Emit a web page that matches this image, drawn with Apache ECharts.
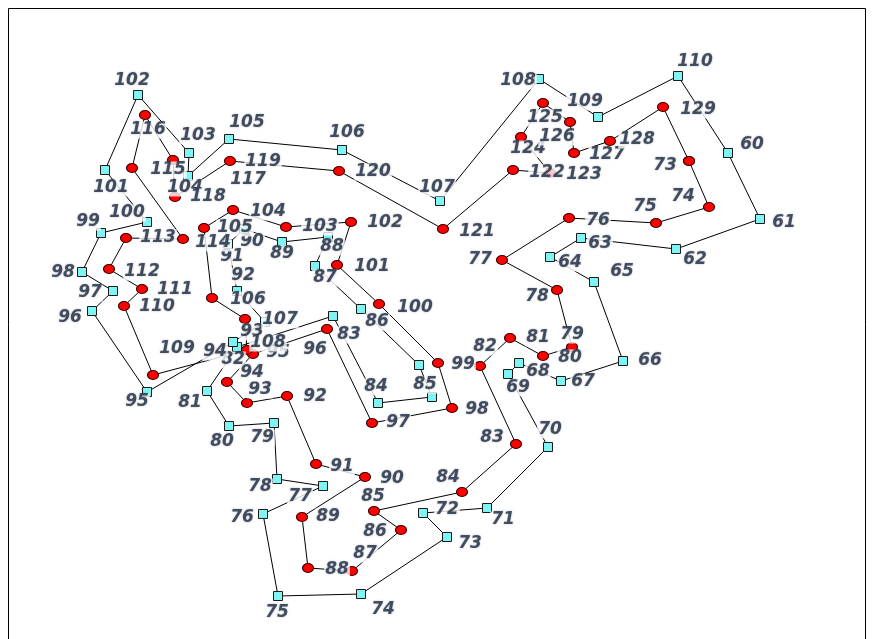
<!DOCTYPE html>
<html>
<head>
<meta charset="utf-8">
<script src="https://cdn.jsdelivr.net/npm/echarts@6/dist/echarts.min.js"></script>
<style>
html,body{margin:0;padding:0;background:#fff;}
#chart{width:872px;height:639px;}
</style>
</head>
<body>
<div id="chart"></div>
<script>
// Cyan route (square markers), in path order; '' = unlabelled vertex
const cyanIds = ['60','61','62','63','64','65','66','67','68','69','70','71','72','73','74','75','76','77','78','79','80','81','82','83','84','85','','86','87','88','89','90','91','92','93','94','95','96','97','98','99','100','101','102','103','104','105','106','107','108','109','110'];
const cyanX = [728,760,676,581,550,594,623,561,519,508,548,487,423,447,361,278,263,323,277,274,229,207,237,333,378,432,419,361,315,328,282,244,228,237,265,233,147,92,113,82,101,147,105,138,189,188,229,342,440,539,598,678];
const cyanY = [153,219,249,238,257,282,361,381,363,374,447,508,513,537,594,596,514,486,479,423,426,391,347,316,403,397,365,309,266,237,242,229,244,291,322,342,392,311,291,272,233,222,170,95,153,176,139,150,201,79,117,76];
const cyanLabelOffset = [[24,-8],[24,4],[19,11],[19,6],[20,6],[28,-10],[27,0],[22,1],[19,9],[10,14],[2,-17],[16,12],[24,-3],[23,7],[22,16],[-1,17],[-21,4],[-23,11],[-17,8],[-12,15],[-7,16],[-17,12],[-4,13],[16,19],[-2,-16],[-7,-12],[0,0],[16,13],[10,12],[4,10],[0,12],[8,13],[4,13],[6,-15],[-13,10],[-18,10],[-10,10],[-22,7],[-23,2],[-19,1],[-13,-11],[-20,-9],[6,18],[-6,-14],[9,-17],[-3,12],[18,-16],[5,-17],[-3,-13],[-21,2],[-13,-15],[17,-14]];

// Red route (circle markers), in path order
const redIds = ['73','74','75','76','77','78','79','80','81','82','83','84','85','86','87','88','89','90','91','92','93','94','95','96','97','98','99','100','101','102','103','104','105','106','107','108','109','110','111','112','113','114','115','116','117','118','119','120','121','122','123','124','125','126','127','128','129'];
const redX = [689,709,656,569,502,557,572,543,510,480,516,462,374,401,352,308,302,365,316,287,247,227,253,327,372,452,438,379,337,351,286,233,204,212,245,247,153,124,142,109,126,183,132,145,173,175,230,339,443,513,550,521,543,570,574,610,663];
const redY = [161,207,223,218,260,290,347,356,338,366,444,492,511,530,571,568,517,477,464,396,403,382,354,329,423,408,363,304,265,222,227,210,228,298,319,350,375,306,289,269,238,239,168,115,160,197,161,171,229,170,173,137,103,122,153,141,107];
const redLabelOffset = [[-24,5],[-26,-10],[-11,-16],[29,3],[-22,0],[-20,7],[0,-12],[27,2],[28,0],[5,-19],[-24,-6],[-14,-14],[-1,-14],[-26,2],[13,-17],[29,2],[26,0],[27,2],[26,3],[28,1],[13,-13],[25,-9],[25,-1],[-12,21],[26,0],[25,2],[25,2],[36,4],[35,2],[34,1],[34,0],[35,2],[31,0],[36,2],[35,1],[21,-7],[24,-26],[33,1],[33,1],[33,3],[32,0],[30,4],[36,2],[3,15],[75,20],[33,0],[33,1],[34,1],[34,3],[34,3],[34,2],[7,12],[2,15],[-13,15],[33,2],[27,-1],[35,3]];

function loop(xs, ys) {
  const pts = xs.map((x, i) => [x, ys[i]]);
  pts.push([xs[0], ys[0]]);
  return pts;
}
function labelData(ids, xs, ys, offs) {
  const out = [];
  ids.forEach((id, i) => {
    if (!id) return;
    out.push({ name: id, value: [xs[i], ys[i]], label: { offset: offs[i] } });
  });
  return out;
}

const labelStyle = {
  show: true,
  position: 'inside',
  formatter: p => p.name,
  fontFamily: 'DejaVu Sans',
  fontWeight: 'bold',
  fontStyle: 'italic',
  fontSize: 17,
  color: '#222e44',
  textShadowColor: 'rgba(34,46,68,0.45)',
  textShadowBlur: 2,
  backgroundColor: '#ffffff',
  padding: [0, 1]
};

const chart = echarts.init(document.getElementById('chart'), null, { renderer: 'canvas' });
chart.setOption({
  animation: false,
  backgroundColor: '#ffffff',
  grid: { left: 0, right: 0, top: 0, bottom: 0 },
  xAxis: { type: 'value', min: 0, max: 872, show: false },
  yAxis: { type: 'value', min: 0, max: 639, inverse: true, show: false },
  graphic: [{
    type: 'rect', z: 100, silent: true,
    shape: { x: 8.5, y: 8.5, width: 857, height: 650 },
    style: { fill: 'none', stroke: '#000', lineWidth: 1 }
  }],
  series: [
    {
      type: 'line', z: 2,
      data: loop(cyanX, cyanY),
      symbol: 'rect', symbolSize: 9, showAllSymbol: true,
      lineStyle: { color: '#000', width: 1 },
      itemStyle: { color: '#7ef4f4', borderColor: '#1a1a1a', borderWidth: 1 },
      label: { show: false }
    },
    {
      type: 'line', z: 3,
      data: loop(redX, redY),
      symbol: 'circle', symbolSize: [11, 9], showAllSymbol: true,
      lineStyle: { color: '#000', width: 1 },
      itemStyle: { color: '#ff0000', borderColor: '#3a0000', borderWidth: 1 },
      label: { show: false }
    },
    {
      type: 'scatter', z: 5,
      data: labelData(cyanIds, cyanX, cyanY, cyanLabelOffset),
      symbolSize: 1,
      itemStyle: { color: 'rgba(0,0,0,0)' },
      label: labelStyle
    },
    {
      type: 'scatter', z: 5,
      data: labelData(redIds, redX, redY, redLabelOffset),
      symbolSize: 1,
      itemStyle: { color: 'rgba(0,0,0,0)' },
      label: labelStyle
    }
  ]
});
</script>
</body>
</html>
